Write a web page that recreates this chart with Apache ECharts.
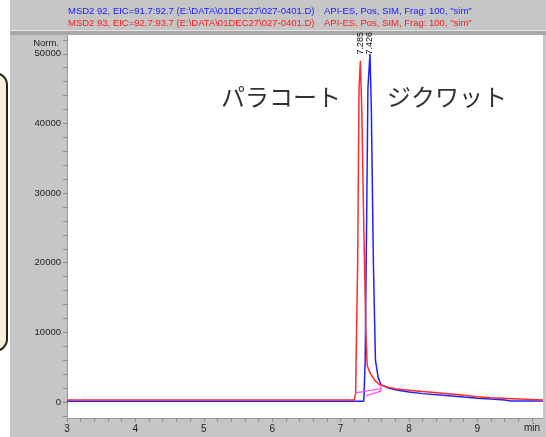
<!DOCTYPE html>
<html>
<head>
<meta charset="utf-8">
<script src="https://cdn.jsdelivr.net/npm/echarts@6/dist/echarts.min.js"></script>
<style>
  html, body { margin: 0; padding: 0; background: #fff; }
  #chart { width: 546px; height: 437px; }
</style>
</head>
<body>
<div id="chart"></div>
<script>
// m/z 93 (red) trace
const redTime  = [3, 7.20, 7.22, 7.25, 7.27, 7.29, 7.31, 7.34, 7.37, 7.39, 7.43, 7.50, 7.57, 7.7, 7.8, 8.0, 8.2, 8.5, 8.8, 9.0, 9.2, 9.45, 9.46, 9.96];
const redValue = [300, 300, 1200, 20000, 45000, 49000, 42000, 25000, 10000, 5200, 4200, 3100, 2500, 2100, 1900, 1700, 1500, 1250, 950, 750, 600, 500, 300, 300];
// m/z 92 (blue) trace
const blueTime  = [3, 7.34, 7.36, 7.38, 7.40, 7.43, 7.45, 7.48, 7.51, 7.55, 7.59, 7.7, 7.8, 8.0, 8.2, 8.5, 8.8, 9.0, 9.2, 9.4, 9.5, 9.96];
const blueValue = [100, 100, 6000, 25000, 45000, 50000, 42000, 20000, 6000, 3500, 2500, 2000, 1750, 1450, 1200, 950, 700, 550, 420, 300, 150, 150];
// integration baselines (magenta)
const baseA = [[7.22, 1300], [7.59, 1900]];
const baseB = [[7.37, 900], [7.59, 1550], [7.59, 2500]];
// peak retention times
const peakLabels = ['7.285', '7.426'];
const peakX = [7.29, 7.43];

const xTickLabels = [3, 4, 5, 6, 7, 8, 9];
const yTickLabels = [0, 10000, 20000, 30000, 40000, 50000];

const xMinor = [];
for (let v = 3; v < 9.95; v += 0.2) xMinor.push(Math.round(v * 10) / 10);
const yMinor = [];
for (let v = -2000; v <= 52000; v += 2000) yMinor.push(v);

const zip = (a, b) => a.map((t, i) => [t, b[i]]);

const chart = echarts.init(document.getElementById('chart'));
const font = 'Liberation Sans, Arial, sans-serif';

chart.setOption({
    animation: false,
    backgroundColor: '#ffffff',
    grid: {
        left: 67, right: 3, top: 35, bottom: 19,
        show: true, backgroundColor: '#ffffff', borderWidth: 0
    },
    xAxis: {
        type: 'value', min: 3, max: 9.96,
        axisLine: { show: true, onZero: false, lineStyle: { color: '#9a9a9a' } },
        axisTick: { show: true, length: 4, customValues: xMinor, lineStyle: { color: '#8c8c8c' } },
        axisLabel: { customValues: xTickLabels, color: '#222', fontSize: 10, fontFamily: font, margin: 6 },
        splitLine: { show: false }
    },
    yAxis: {
        type: 'value', min: -2300, max: 52700,
        axisLine: { show: true, lineStyle: { color: '#9a9a9a' } },
        axisTick: { show: true, length: 4, customValues: yMinor, lineStyle: { color: '#8c8c8c' } },
        axisLabel: { customValues: yTickLabels, color: '#222', fontSize: 9.5, fontFamily: font, margin: 6,
                     formatter: v => String(v) },
        splitLine: { show: false }
    },
    graphic: [
        // gray window frame
        { type: 'rect', z: -10, shape: { x: 10, y: 0, width: 536, height: 437 }, style: { fill: '#c6c6c6' } },
        { type: 'rect', z: -9, shape: { x: 10, y: 31, width: 536, height: 4 }, style: { fill: '#a8a8a8' } },
        { type: 'rect', z: -9, shape: { x: 10, y: 30, width: 536, height: 1 }, style: { fill: '#e4e4e4' } },
        // left callout box edge
        { type: 'rect', shape: { x: -40, y: 73, width: 47, height: 278, r: 12 },
          style: { fill: '#fbeedd', stroke: '#222', lineWidth: 2 } },
        // header
        { type: 'text', left: 68, top: 6, style: { text: 'MSD2 92, EIC=91.7:92.7 (E:\\DATA\\01DEC27\\027-0401.D)', fill: '#1a1aff', font: '9.5px ' + font } },
        { type: 'text', left: 324, top: 6, style: { text: 'API-ES, Pos, SIM, Frag: 100, "sim"', fill: '#1a1aff', font: '9.5px ' + font } },
        { type: 'text', left: 68, top: 18, style: { text: 'MSD2 93, EIC=92.7:93.7 (E:\\DATA\\01DEC27\\027-0401.D)', fill: '#ff1a1a', font: '9.5px ' + font } },
        { type: 'text', left: 324, top: 18, style: { text: 'API-ES, Pos, SIM, Frag: 100, "sim"', fill: '#ff1a1a', font: '9.5px ' + font } },
        { type: 'text', right: 487, top: 38, style: { text: 'Norm.', fill: '#222', font: '9.5px ' + font, align: 'right' } },
        { type: 'text', left: 524, top: 423, style: { text: 'min', fill: '#222', font: '10px ' + font } },
        // compound names
        { type: 'text', left: 221, top: 85, style: { text: 'パラコート', fill: '#333', font: '24px "Noto Sans CJK JP"' } },
        { type: 'text', left: 387, top: 85, style: { text: 'ジクワット', fill: '#333', font: '24px "Noto Sans CJK JP"' } }
    ],
    series: [
        {
            type: 'line', data: zip(redTime, redValue), symbol: 'none',
            lineStyle: { color: '#ff2a2a', width: 1.5 }, z: 3,
            markPoint: {
                symbol: 'rect', symbolSize: 0,
                label: { show: true, rotate: 90, color: '#111', fontSize: 9, fontFamily: font, formatter: p => p.name },
                data: [{ name: peakLabels[0], coord: [peakX[0], 51500] }]
            }
        },
        {
            type: 'line', data: zip(blueTime, blueValue), symbol: 'none',
            lineStyle: { color: '#2020ff', width: 1.5 }, z: 2,
            markPoint: {
                symbol: 'rect', symbolSize: 0,
                label: { show: true, rotate: 90, color: '#111', fontSize: 9, fontFamily: font, formatter: p => p.name },
                data: [{ name: peakLabels[1], coord: [peakX[1], 51500] }]
            }
        },
        { type: 'line', data: baseA, symbol: 'none', lineStyle: { color: '#ff44ff', width: 1.2 }, z: 4 },
        { type: 'line', data: baseB, symbol: 'none', lineStyle: { color: '#ff44ff', width: 1.2 }, z: 4 }
    ]
});
</script>
</body>
</html>
